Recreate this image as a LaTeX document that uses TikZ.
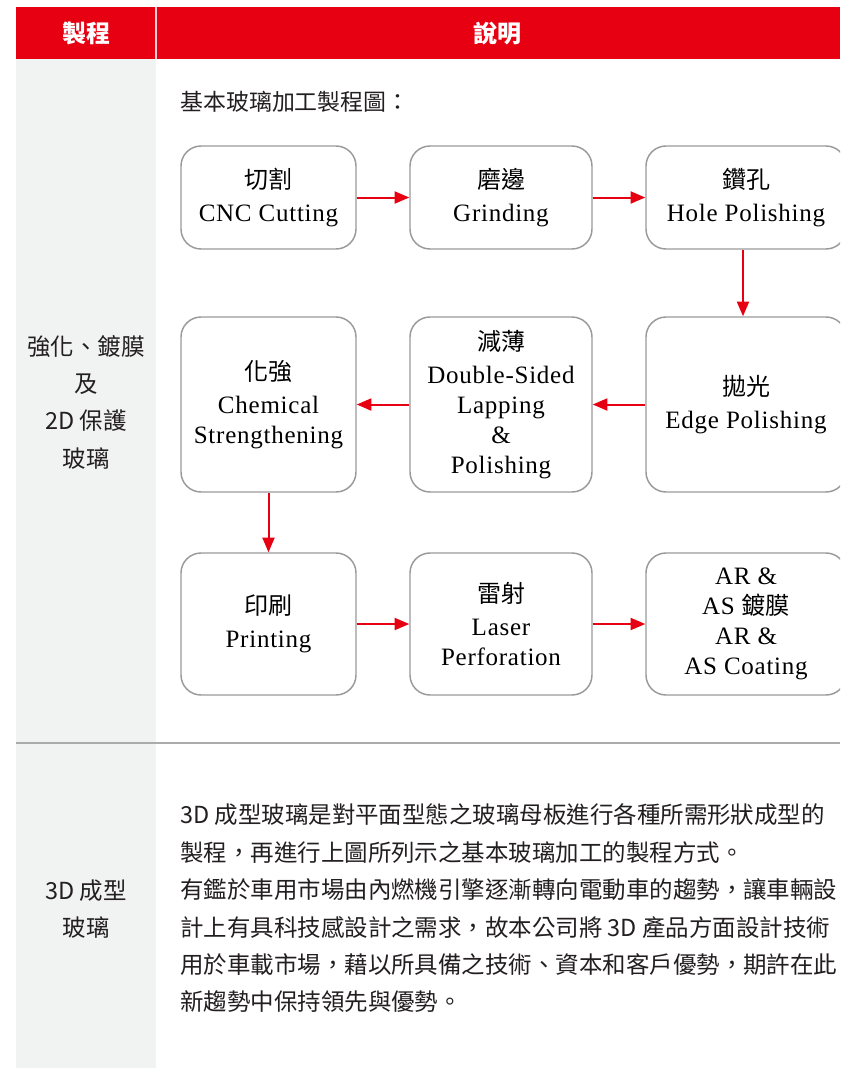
\documentclass[tikz,border=0pt]{standalone}
\usepackage{fontspec}
\setmainfont[LetterSpace=3]{Liberation Serif}
\newfontfamily\cjk{Noto Sans CJK TC}
\usetikzlibrary{arrows.meta}
\definecolor{hdrred}{HTML}{E60012}
\definecolor{colgrey}{HTML}{F1F2F2}
\definecolor{boxgrey}{HTML}{9A9A9A}
\definecolor{rulegrey}{HTML}{ABABAB}
\definecolor{txt}{HTML}{231F20}
\newcommand\zh[1]{{\cjk\fontsize{18}{22.5}\selectfont #1}}
\begin{document}
\begin{tikzpicture}[x=0.75pt,y=-0.75pt,
  proc/.style={draw=boxgrey, line width=1.1pt, rounded corners=15pt, fill=white,
    align=center, inner sep=0pt, text=black, font=\fontsize{18.75}{22.5}\selectfont},
  flow/.style={draw=hdrred, line width=1.5pt, -{Triangle[length=11pt,width=9pt]}},
  sanstxt/.style={font=\cjk\fontsize{17.6}{28.05}\selectfont, text=txt, inner sep=0pt},
  hdr/.style={font=\cjk\bfseries\fontsize{18}{22}\selectfont, text=white, inner sep=0pt}
]
\useasboundingbox (0,0) rectangle (840,1068);
\clip (0,0) rectangle (840,1068);
\fill[white] (0,0) rectangle (840,1068);
\fill[colgrey] (16,59) rectangle (156,1068);
\fill[hdrred] (16,7) rectangle (840,59);
\draw[white!80!hdrred, line width=0.8pt] (156,7) -- (156,59);
\draw[rulegrey, line width=1.5pt] (16,743) -- (840,743);

% header
\node[hdr] (h1) at (86,33) {製程};
\node[hdr] (h2) at (497,33) {說明};

% left column
\node[sanstxt, align=center] (l1) at (86,402) {強化、鍍膜\\及\\2D 保護\\玻璃};
\node[sanstxt, align=center] (l2) at (86,909) {3D 成型\\玻璃};

% caption
\node[sanstxt, anchor=west, font=\cjk\fontsize{17.2}{22}\selectfont] (cap) at (180,102) {基本玻璃加工製程圖：};

% boxes row 1
\node[proc, minimum width={175*0.75pt}, minimum height={103*0.75pt}] (b1) at (268.5,197.5)
  {\zh{切割}\\[2pt] CNC Cutting};
\node[proc, minimum width={182*0.75pt}, minimum height={103*0.75pt}] (b2) at (501,197.5)
  {\zh{磨邊}\\[2pt] Grinding};
\node[proc, minimum width={200*0.75pt}, minimum height={103*0.75pt}] (b3) at (746,197.5)
  {\zh{鑽孔}\\[2pt] Hole Polishing};
% row 2
\node[proc, minimum width={175*0.75pt}, minimum height={175*0.75pt}] (c1) at (268.5,404.5)
  {\zh{化強}\\[2pt] Chemical\\ Strengthening};
\node[proc, minimum width={182*0.75pt}, minimum height={175*0.75pt}] (c2) at (501,404.5)
  {\zh{減薄}\\[2pt] Double-Sided\\ Lapping\\ \&\\ Polishing};
\node[proc, minimum width={200*0.75pt}, minimum height={175*0.75pt}] (c3) at (746,404.5)
  {\zh{拋光}\\[2pt] Edge Polishing};
% row 3
\node[proc, minimum width={175*0.75pt}, minimum height={142*0.75pt}] (d1) at (268.5,624)
  {\zh{印刷}\\[2pt] Printing};
\node[proc, minimum width={182*0.75pt}, minimum height={142*0.75pt}] (d2) at (501,624)
  {\zh{雷射}\\[2pt] Laser\\ Perforation};
\node[proc, minimum width={200*0.75pt}, minimum height={142*0.75pt}] (d3) at (746,624)
  {AR \&\\ AS \zh{鍍膜}\\ AR \&\\ AS Coating};

% arrows
\draw[flow] (b1) -- (b2);
\draw[flow] (b2) -- (b3);
\draw[flow] ([xshift=-2.25pt]b3.south) -- ([xshift=-2.25pt]c3.north);
\draw[flow] (c3) -- (c2);
\draw[flow] (c2) -- (c1);
\draw[flow] (c1) -- (d1);
\draw[flow] (d1) -- (d2);
\draw[flow] (d2) -- (d3);

% paragraph
\node[sanstxt, align=left, anchor=west] (para) at (180,908.5)
 {3D 成型玻璃是對平面型態之玻璃母板進行各種所需形狀成型的\\
  製程，再進行上圖所列示之基本玻璃加工的製程方式。\\
  有鑑於車用市場由內燃機引擎逐漸轉向電動車的趨勢，讓車輛設\\
  計上有具科技感設計之需求，故本公司將 3D 產品方面設計技術\\
  用於車載市場，藉以所具備之技術、資本和客戶優勢，期許在此\\
  新趨勢中保持領先與優勢。};
\end{tikzpicture}
\end{document}
